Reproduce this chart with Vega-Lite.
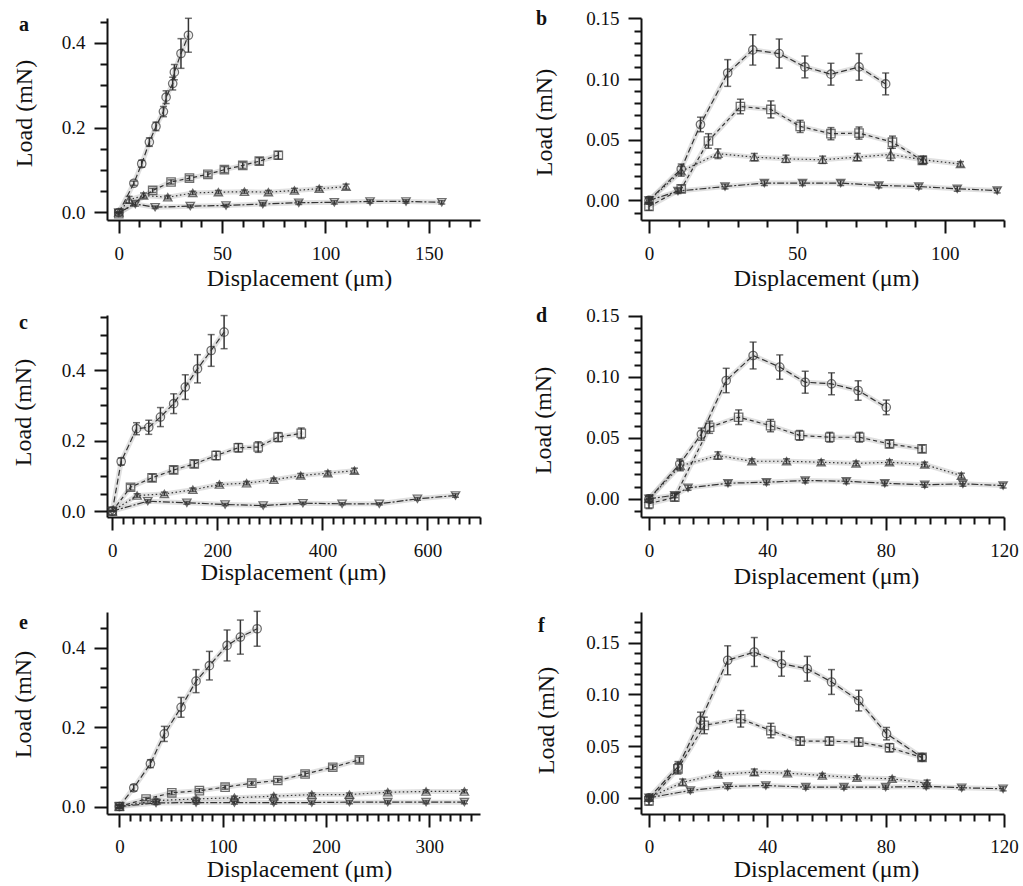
{
"$schema": "https://vega.github.io/schema/vega-lite/v6.json",
"background": "white",
"padding": {"left": 10, "top": 8, "right": 5, "bottom": 5},
"config": {
 "view": {"stroke": null},
 "axis": {"grid": false, "domainColor": "#111", "domainWidth": 2, "tickColor": "#111", "tickWidth": 2, "labelFont": "Liberation Serif", "labelFontSize": 19, "labelColor": "#111", "titleFont": "Liberation Serif", "titleFontSize": 24, "titleFontWeight": "normal", "titleColor": "#111", "labelOverlap": false, "labelFlush": false, "labelBound": false}
},
"datasets": {"d": [
{"p":"a","s":"c","x":0,"y":0,"e":0},{"p":"a","s":"c","x":7.3,"y":0.069,"e":0.005},{"p":"a","s":"c","x":11.1,"y":0.115,"e":0.008},{"p":"a","s":"c","x":14.8,"y":0.166,"e":0.01},{"p":"a","s":"c","x":18.0,"y":0.203,"e":0.01},{"p":"a","s":"c","x":21.6,"y":0.238,"e":0.012},{"p":"a","s":"c","x":22.9,"y":0.272,"e":0.015},{"p":"a","s":"c","x":26.1,"y":0.304,"e":0.015},{"p":"a","s":"c","x":26.9,"y":0.331,"e":0.018},{"p":"a","s":"c","x":30.1,"y":0.375,"e":0.035},{"p":"a","s":"c","x":33.7,"y":0.418,"e":0.04},
{"p":"a","s":"s","x":0,"y":-0.003,"e":0.003},{"p":"a","s":"s","x":16.4,"y":0.052,"e":0.005},{"p":"a","s":"s","x":25.3,"y":0.072,"e":0.005},{"p":"a","s":"s","x":34.2,"y":0.081,"e":0.006},{"p":"a","s":"s","x":43.1,"y":0.09,"e":0.006},{"p":"a","s":"s","x":51.1,"y":0.101,"e":0.007},{"p":"a","s":"s","x":60.0,"y":0.111,"e":0.007},{"p":"a","s":"s","x":68.0,"y":0.121,"e":0.008},{"p":"a","s":"s","x":77.2,"y":0.135,"e":0.009},
{"p":"a","s":"u","x":0,"y":0,"e":0},{"p":"a","s":"u","x":5,"y":0.03,"e":0.008},{"p":"a","s":"u","x":12,"y":0.04,"e":0.006},{"p":"a","s":"u","x":23.7,"y":0.036,"e":0.004},{"p":"a","s":"u","x":35.8,"y":0.046,"e":0.004},{"p":"a","s":"u","x":48.2,"y":0.048,"e":0.004},{"p":"a","s":"u","x":60.8,"y":0.049,"e":0.004},{"p":"a","s":"u","x":72.4,"y":0.048,"e":0.004},{"p":"a","s":"u","x":85.0,"y":0.052,"e":0.005},{"p":"a","s":"u","x":97.0,"y":0.056,"e":0.005},{"p":"a","s":"u","x":110.0,"y":0.061,"e":0.006},
{"p":"a","s":"d","x":0,"y":0,"e":0},{"p":"a","s":"d","x":8,"y":0.02,"e":0.005},{"p":"a","s":"d","x":17.6,"y":0.0125,"e":0.003},{"p":"a","s":"d","x":34.6,"y":0.015,"e":0.003},{"p":"a","s":"d","x":51.9,"y":0.0165,"e":0.003},{"p":"a","s":"d","x":69.7,"y":0.02,"e":0.004},{"p":"a","s":"d","x":87.1,"y":0.023,"e":0.004},{"p":"a","s":"d","x":104.3,"y":0.024,"e":0.004},{"p":"a","s":"d","x":121.6,"y":0.026,"e":0.004},{"p":"a","s":"d","x":139.0,"y":0.026,"e":0.004},{"p":"a","s":"d","x":156.3,"y":0.024,"e":0.004},
{"p":"b","s":"c","x":0,"y":0,"e":0.003},{"p":"b","s":"c","x":10.9,"y":0.026,"e":0.004},{"p":"b","s":"c","x":17.4,"y":0.0626,"e":0.006},{"p":"b","s":"c","x":26.6,"y":0.105,"e":0.011},{"p":"b","s":"c","x":35.1,"y":0.124,"e":0.0125},{"p":"b","s":"c","x":44.0,"y":0.121,"e":0.012},{"p":"b","s":"c","x":52.7,"y":0.11,"e":0.009},{"p":"b","s":"c","x":61.5,"y":0.104,"e":0.009},{"p":"b","s":"c","x":71.0,"y":0.11,"e":0.011},{"p":"b","s":"c","x":80.0,"y":0.096,"e":0.009},
{"p":"b","s":"s","x":0,"y":-0.005,"e":0.003},{"p":"b","s":"s","x":10.9,"y":0.0096,"e":0.003},{"p":"b","s":"s","x":20.1,"y":0.049,"e":0.006},{"p":"b","s":"s","x":30.9,"y":0.0774,"e":0.006},{"p":"b","s":"s","x":41.2,"y":0.075,"e":0.007},{"p":"b","s":"s","x":51.1,"y":0.061,"e":0.005},{"p":"b","s":"s","x":61.5,"y":0.055,"e":0.005},{"p":"b","s":"s","x":71.0,"y":0.0555,"e":0.005},{"p":"b","s":"s","x":82.3,"y":0.048,"e":0.005},{"p":"b","s":"s","x":92.4,"y":0.033,"e":0.003},
{"p":"b","s":"u","x":0,"y":0,"e":0.002},{"p":"b","s":"u","x":10.9,"y":0.024,"e":0.004},{"p":"b","s":"u","x":23.3,"y":0.0385,"e":0.004},{"p":"b","s":"u","x":35.6,"y":0.0357,"e":0.003},{"p":"b","s":"u","x":46.3,"y":0.0343,"e":0.003},{"p":"b","s":"u","x":58.7,"y":0.0335,"e":0.003},{"p":"b","s":"u","x":70.4,"y":0.0357,"e":0.003},{"p":"b","s":"u","x":81.7,"y":0.0379,"e":0.005},{"p":"b","s":"u","x":92.7,"y":0.0335,"e":0.003},{"p":"b","s":"u","x":105.3,"y":0.03,"e":0.002},
{"p":"b","s":"d","x":0,"y":0,"e":0.002},{"p":"b","s":"d","x":9.8,"y":0.0077,"e":0.002},{"p":"b","s":"d","x":25.7,"y":0.0115,"e":0.002},{"p":"b","s":"d","x":39.0,"y":0.0143,"e":0.002},{"p":"b","s":"d","x":51.9,"y":0.0143,"e":0.002},{"p":"b","s":"d","x":64.8,"y":0.0143,"e":0.002},{"p":"b","s":"d","x":77.7,"y":0.0124,"e":0.002},{"p":"b","s":"d","x":91.2,"y":0.0115,"e":0.002},{"p":"b","s":"d","x":104.2,"y":0.0096,"e":0.002},{"p":"b","s":"d","x":117.7,"y":0.0082,"e":0.002},
{"p":"c","s":"c","x":0,"y":0,"e":0},{"p":"c","s":"c","x":17,"y":0.141,"e":0.01},{"p":"c","s":"c","x":46.2,"y":0.234,"e":0.017},{"p":"c","s":"c","x":69.5,"y":0.238,"e":0.02},{"p":"c","s":"c","x":91.7,"y":0.267,"e":0.027},{"p":"c","s":"c","x":116.9,"y":0.305,"e":0.028},{"p":"c","s":"c","x":139,"y":0.352,"e":0.035},{"p":"c","s":"c","x":162.3,"y":0.404,"e":0.04},{"p":"c","s":"c","x":188.3,"y":0.456,"e":0.045},{"p":"c","s":"c","x":212.9,"y":0.508,"e":0.047},
{"p":"c","s":"s","x":0,"y":0,"e":0},{"p":"c","s":"s","x":34.8,"y":0.068,"e":0.008},{"p":"c","s":"s","x":75.8,"y":0.0947,"e":0.01},{"p":"c","s":"s","x":116.9,"y":0.117,"e":0.01},{"p":"c","s":"s","x":156.1,"y":0.134,"e":0.01},{"p":"c","s":"s","x":197.7,"y":0.158,"e":0.012},{"p":"c","s":"s","x":240,"y":0.18,"e":0.012},{"p":"c","s":"s","x":277.8,"y":0.182,"e":0.015},{"p":"c","s":"s","x":315.7,"y":0.21,"e":0.013},{"p":"c","s":"s","x":359.8,"y":0.221,"e":0.015},
{"p":"c","s":"u","x":0,"y":0,"e":0},{"p":"c","s":"u","x":47.3,"y":0.0445,"e":0.005},{"p":"c","s":"u","x":99.2,"y":0.049,"e":0.005},{"p":"c","s":"u","x":153.4,"y":0.0607,"e":0.005},{"p":"c","s":"u","x":204,"y":0.0757,"e":0.005},{"p":"c","s":"u","x":255.7,"y":0.0795,"e":0.005},{"p":"c","s":"u","x":307.6,"y":0.089,"e":0.005},{"p":"c","s":"u","x":358.7,"y":0.101,"e":0.006},{"p":"c","s":"u","x":410.4,"y":0.108,"e":0.006},{"p":"c","s":"u","x":461,"y":0.115,"e":0.007},
{"p":"c","s":"d","x":0,"y":0,"e":0},{"p":"c","s":"d","x":67.6,"y":0.0284,"e":0.004},{"p":"c","s":"d","x":142,"y":0.0238,"e":0.004},{"p":"c","s":"d","x":214.8,"y":0.019,"e":0.003},{"p":"c","s":"d","x":287.3,"y":0.016,"e":0.003},{"p":"c","s":"d","x":363,"y":0.0227,"e":0.003},{"p":"c","s":"d","x":437.5,"y":0.021,"e":0.003},{"p":"c","s":"d","x":508.3,"y":0.021,"e":0.003},{"p":"c","s":"d","x":580.9,"y":0.035,"e":0.004},{"p":"c","s":"d","x":653.4,"y":0.0445,"e":0.005},
{"p":"d","s":"c","x":0,"y":0,"e":0.003},{"p":"d","s":"c","x":10.4,"y":0.0287,"e":0.004},{"p":"d","s":"c","x":17.7,"y":0.053,"e":0.005},{"p":"d","s":"c","x":26.1,"y":0.097,"e":0.01},{"p":"d","s":"c","x":35.2,"y":0.1175,"e":0.011},{"p":"d","s":"c","x":44.2,"y":0.108,"e":0.01},{"p":"d","s":"c","x":52.8,"y":0.0956,"e":0.009},{"p":"d","s":"c","x":61.7,"y":0.0943,"e":0.009},{"p":"d","s":"c","x":70.7,"y":0.0888,"e":0.008},{"p":"d","s":"c","x":80.2,"y":0.075,"e":0.006},
{"p":"d","s":"s","x":0,"y":-0.004,"e":0.004},{"p":"d","s":"s","x":8.7,"y":0.0013,"e":0.003},{"p":"d","s":"s","x":20.5,"y":0.0587,"e":0.005},{"p":"d","s":"s","x":30.3,"y":0.0669,"e":0.006},{"p":"d","s":"s","x":41.1,"y":0.06,"e":0.005},{"p":"d","s":"s","x":50.9,"y":0.052,"e":0.004},{"p":"d","s":"s","x":61.1,"y":0.0505,"e":0.004},{"p":"d","s":"s","x":71.2,"y":0.0505,"e":0.004},{"p":"d","s":"s","x":81.3,"y":0.045,"e":0.003},{"p":"d","s":"s","x":92.3,"y":0.041,"e":0.003},
{"p":"d","s":"u","x":0,"y":0,"e":0.002},{"p":"d","s":"u","x":10.6,"y":0.027,"e":0.004},{"p":"d","s":"u","x":23.3,"y":0.0355,"e":0.003},{"p":"d","s":"u","x":34.8,"y":0.0308,"e":0.002},{"p":"d","s":"u","x":46.5,"y":0.0308,"e":0.002},{"p":"d","s":"u","x":58.2,"y":0.03,"e":0.002},{"p":"d","s":"u","x":70,"y":0.029,"e":0.002},{"p":"d","s":"u","x":81.3,"y":0.03,"e":0.002},{"p":"d","s":"u","x":93.2,"y":0.0281,"e":0.002},{"p":"d","s":"u","x":105.6,"y":0.019,"e":0.002},
{"p":"d","s":"d","x":0,"y":0,"e":0.002},{"p":"d","s":"d","x":8.7,"y":0.003,"e":0.002},{"p":"d","s":"d","x":13.2,"y":0.009,"e":0.002},{"p":"d","s":"d","x":26.7,"y":0.0128,"e":0.002},{"p":"d","s":"d","x":39.7,"y":0.0136,"e":0.002},{"p":"d","s":"d","x":52.8,"y":0.015,"e":0.002},{"p":"d","s":"d","x":66.7,"y":0.0144,"e":0.002},{"p":"d","s":"d","x":79.7,"y":0.0128,"e":0.002},{"p":"d","s":"d","x":93.2,"y":0.0115,"e":0.002},{"p":"d","s":"d","x":106.1,"y":0.0123,"e":0.002},{"p":"d","s":"d","x":119.7,"y":0.0109,"e":0.002},
{"p":"e","s":"c","x":0,"y":0,"e":0.005},{"p":"e","s":"c","x":13.9,"y":0.047,"e":0.008},{"p":"e","s":"c","x":30,"y":0.108,"e":0.01},{"p":"e","s":"c","x":43.5,"y":0.183,"e":0.019},{"p":"e","s":"c","x":59.7,"y":0.25,"e":0.025},{"p":"e","s":"c","x":74.2,"y":0.316,"e":0.029},{"p":"e","s":"c","x":87.1,"y":0.355,"e":0.036},{"p":"e","s":"c","x":104.2,"y":0.406,"e":0.039},{"p":"e","s":"c","x":117.1,"y":0.427,"e":0.043},{"p":"e","s":"c","x":133.3,"y":0.448,"e":0.044},
{"p":"e","s":"s","x":0,"y":0,"e":0.004},{"p":"e","s":"s","x":25.8,"y":0.019,"e":0.004},{"p":"e","s":"s","x":50.7,"y":0.0345,"e":0.005},{"p":"e","s":"s","x":77.4,"y":0.04,"e":0.005},{"p":"e","s":"s","x":102.3,"y":0.0487,"e":0.005},{"p":"e","s":"s","x":128.1,"y":0.0588,"e":0.005},{"p":"e","s":"s","x":153.3,"y":0.0655,"e":0.005},{"p":"e","s":"s","x":179.7,"y":0.082,"e":0.006},{"p":"e","s":"s","x":206.5,"y":0.099,"e":0.006},{"p":"e","s":"s","x":232.3,"y":0.1177,"e":0.007},
{"p":"e","s":"u","x":0,"y":0,"e":0.003},{"p":"e","s":"u","x":35.5,"y":0.015,"e":0.004},{"p":"e","s":"u","x":74.2,"y":0.019,"e":0.004},{"p":"e","s":"u","x":111.3,"y":0.022,"e":0.004},{"p":"e","s":"u","x":149.4,"y":0.026,"e":0.004},{"p":"e","s":"u","x":186.2,"y":0.03,"e":0.004},{"p":"e","s":"u","x":222.6,"y":0.03,"e":0.004},{"p":"e","s":"u","x":259.7,"y":0.036,"e":0.004},{"p":"e","s":"u","x":296.8,"y":0.038,"e":0.004},{"p":"e","s":"u","x":333.9,"y":0.038,"e":0.004},
{"p":"e","s":"d","x":0,"y":0,"e":0.003},{"p":"e","s":"d","x":35.5,"y":0.009,"e":0.004},{"p":"e","s":"d","x":74.2,"y":0.01,"e":0.004},{"p":"e","s":"d","x":111.3,"y":0.01,"e":0.004},{"p":"e","s":"d","x":149.4,"y":0.01,"e":0.004},{"p":"e","s":"d","x":186.2,"y":0.01,"e":0.004},{"p":"e","s":"d","x":222.6,"y":0.011,"e":0.004},{"p":"e","s":"d","x":259.7,"y":0.011,"e":0.004},{"p":"e","s":"d","x":296.8,"y":0.011,"e":0.004},{"p":"e","s":"d","x":333.9,"y":0.011,"e":0.004},
{"p":"f","s":"c","x":0,"y":0,"e":0.003},{"p":"f","s":"c","x":9.8,"y":0.03,"e":0.005},{"p":"f","s":"c","x":17.4,"y":0.0748,"e":0.008},{"p":"f","s":"c","x":26.6,"y":0.133,"e":0.014},{"p":"f","s":"c","x":35.6,"y":0.141,"e":0.014},{"p":"f","s":"c","x":44.8,"y":0.1296,"e":0.012},{"p":"f","s":"c","x":53.5,"y":0.1248,"e":0.012},{"p":"f","s":"c","x":61.7,"y":0.112,"e":0.012},{"p":"f","s":"c","x":70.9,"y":0.094,"e":0.01},{"p":"f","s":"c","x":80.3,"y":0.062,"e":0.006},{"p":"f","s":"c","x":92.3,"y":0.039,"e":0.003},
{"p":"f","s":"s","x":0,"y":-0.003,"e":0.004},{"p":"f","s":"s","x":9.8,"y":0.028,"e":0.005},{"p":"f","s":"s","x":18.7,"y":0.07,"e":0.008},{"p":"f","s":"s","x":31,"y":0.0764,"e":0.008},{"p":"f","s":"s","x":41.2,"y":0.065,"e":0.007},{"p":"f","s":"s","x":51.1,"y":0.0548,"e":0.004},{"p":"f","s":"s","x":61,"y":0.0548,"e":0.004},{"p":"f","s":"s","x":70.9,"y":0.0538,"e":0.004},{"p":"f","s":"s","x":81.3,"y":0.0484,"e":0.004},{"p":"f","s":"s","x":92.3,"y":0.039,"e":0.003},
{"p":"f","s":"u","x":0,"y":0,"e":0.002},{"p":"f","s":"u","x":11.4,"y":0.0151,"e":0.003},{"p":"f","s":"u","x":23.4,"y":0.0225,"e":0.002},{"p":"f","s":"u","x":35.6,"y":0.0248,"e":0.003},{"p":"f","s":"u","x":46.8,"y":0.0238,"e":0.002},{"p":"f","s":"u","x":58.6,"y":0.0216,"e":0.002},{"p":"f","s":"u","x":70.3,"y":0.0193,"e":0.002},{"p":"f","s":"u","x":82.2,"y":0.0184,"e":0.002},{"p":"f","s":"u","x":94,"y":0.0141,"e":0.003},
{"p":"f","s":"d","x":0,"y":0,"e":0.002},{"p":"f","s":"d","x":14,"y":0.0071,"e":0.002},{"p":"f","s":"d","x":26.6,"y":0.0109,"e":0.002},{"p":"f","s":"d","x":39.5,"y":0.0119,"e":0.002},{"p":"f","s":"d","x":53,"y":0.0103,"e":0.002},{"p":"f","s":"d","x":65.9,"y":0.0103,"e":0.002},{"p":"f","s":"d","x":80,"y":0.0103,"e":0.002},{"p":"f","s":"d","x":93.7,"y":0.011,"e":0.002},{"p":"f","s":"d","x":105.7,"y":0.0097,"e":0.002},{"p":"f","s":"d","x":119.7,"y":0.0087,"e":0.002}
]},
"spacing": 297,
"bounds": "flush",
"resolve": {"scale": {"x": "independent", "y": "independent"}},
"vconcat": [
{"hconcat": [
 {"width": 373, "height": 202,
  "title": {"text": "a", "anchor": "start", "frame": "group", "orient": "top", "offset": -28, "dx": -88, "dy": 10.5, "baseline": "alphabetic", "font": "Liberation Serif", "fontSize": 20, "fontWeight": "bold", "color": "#111"},
  "data": {"name": "d"}, "transform": [{"filter": "datum.p === 'a'"}],
  "encoding": {
   "x": {"field": "x", "type": "quantitative", "scale": {"domain": [-5.7, 174.8], "nice": false, "zero": false},
    "axis": {"title": "Displacement (μm)", "values": [0,10,20,30,40,50,60,70,80,90,100,110,120,130,140,150,160,170], "labelExpr": "datum.value % 50 === 0 ? datum.label : ''", "tickSize": {"condition": {"test": "datum.value % 50 === 0", "value": 13}, "value": 7}, "labelPadding": 11, "titleX": 192, "titleY": 58, "titleBaseline": "middle", "titleAlign": "center"}},
   "y": {"field": "y", "type": "quantitative", "scale": {"domain": [-0.0177, 0.4587], "nice": false, "zero": false},
    "axis": {"title": "Load (mN)", "values": [0,0.05,0.1,0.15,0.2,0.25,0.3,0.35,0.4,0.45], "labelExpr": "abs(datum.value*5 - round(datum.value*5)) < 0.001 ? format(datum.value, '.1f') : ''", "tickSize": {"condition": {"test": "abs(datum.value*5 - round(datum.value*5)) < 0.001", "value": 13}, "value": 7}, "labelPadding": 9, "titleX": -83, "titleY": 95, "titleBaseline": "middle", "titleAlign": "center"}}
  },
  "layer": [
   {"mark": {"type": "line", "color": "#bbbbbb", "strokeWidth": 5, "opacity": 0.45, "strokeCap": "round"}, "encoding": {"detail": {"field": "s"}}},
   {"mark": {"type": "errorbar", "ticks": {"size": 7}, "color": "#333", "thickness": 1.5}, "encoding": {"yError": {"field": "e"}}},
   {"mark": {"type": "line", "color": "#333", "strokeWidth": 1.2}, "encoding": {"strokeDash": {"field": "s", "type": "nominal", "scale": {"domain": ["c","s","u","d"], "range": [[6,3],[4,3],[1.5,2.5],[7,2,2,2]]}, "legend": null}}},
   {"mark": {"type": "point", "filled": false, "color": "#333", "strokeWidth": 1.3, "size": 70}, "encoding": {"shape": {"field": "s", "type": "nominal", "scale": {"domain": ["c","s","u","d"], "range": ["circle","square","triangle-up","triangle-down"]}, "legend": null}}}
  ]
 },
 {"width": 363, "height": 202,
  "title": {"text": "b", "anchor": "start", "frame": "group", "orient": "top", "offset": -28, "dx": -105, "dy": 7.5, "baseline": "alphabetic", "font": "Liberation Serif", "fontSize": 20, "fontWeight": "bold", "color": "#111"},
  "data": {"name": "d"}, "transform": [{"filter": "datum.p === 'b'"}],
  "encoding": {
   "x": {"field": "x", "type": "quantitative", "scale": {"domain": [-2.7, 120], "nice": false, "zero": false},
    "axis": {"title": "Displacement (μm)", "values": [0,10,20,30,40,50,60,70,80,90,100,110,120], "labelExpr": "datum.value % 50 === 0 ? datum.label : ''", "tickSize": {"condition": {"test": "datum.value % 50 === 0", "value": 13}, "value": 7}, "labelPadding": 11, "titleX": 185, "titleY": 58, "titleBaseline": "middle", "titleAlign": "center"}},
   "y": {"field": "y", "type": "quantitative", "scale": {"domain": [-0.0161, 0.1503], "nice": false, "zero": false},
    "axis": {"title": "Load (mN)", "values": [-0.01,0,0.01,0.02,0.03,0.04,0.05,0.06,0.07,0.08,0.09,0.1,0.11,0.12,0.13,0.14,0.15], "labelExpr": "abs(datum.value*20 - round(datum.value*20)) < 0.001 ? format(datum.value, '.2f') : ''", "tickSize": {"condition": {"test": "abs(datum.value*20 - round(datum.value*20)) < 0.001", "value": 13}, "value": 7}, "labelPadding": 9, "titleX": -97, "titleY": 104, "titleBaseline": "middle", "titleAlign": "center"}}
  },
  "layer": [
   {"mark": {"type": "line", "color": "#bbbbbb", "strokeWidth": 5, "opacity": 0.45, "strokeCap": "round"}, "encoding": {"detail": {"field": "s"}}},
   {"mark": {"type": "errorbar", "ticks": {"size": 7}, "color": "#333", "thickness": 1.5}, "encoding": {"yError": {"field": "e"}}},
   {"mark": {"type": "line", "color": "#333", "strokeWidth": 1.2}, "encoding": {"strokeDash": {"field": "s", "type": "nominal", "scale": {"domain": ["c","s","u","d"], "range": [[6,3],[4,3],[1.5,2.5],[7,2,2,2]]}, "legend": null}}},
   {"mark": {"type": "point", "filled": false, "color": "#333", "strokeWidth": 1.3, "size": 70}, "encoding": {"shape": {"field": "s", "type": "nominal", "scale": {"domain": ["c","s","u","d"], "range": ["circle","square","triangle-up","triangle-down"]}, "legend": null}}}
  ]
 }
], "spacing": 161, "bounds": "flush", "resolve": {"scale": {"x": "independent", "y": "independent"}}},
{"hconcat": [
 {"width": 373, "height": 202,
  "title": {"text": "c", "anchor": "start", "frame": "group", "orient": "top", "offset": -28, "dx": -88, "dy": 12.5, "baseline": "alphabetic", "font": "Liberation Serif", "fontSize": 20, "fontWeight": "bold", "color": "#111"},
  "data": {"name": "d"}, "transform": [{"filter": "datum.p === 'c'"}],
  "encoding": {
   "x": {"field": "x", "type": "quantitative", "scale": {"domain": [-10, 700], "nice": false, "zero": false},
    "axis": {"title": "Displacement (μm)", "values": [0,20,40,60,80,100,120,140,160,180,200,220,240,260,280,300,320,340,360,380,400,420,440,460,480,500,520,540,560,580,600,620,640,660,680,700], "labelExpr": "datum.value % 200 === 0 ? datum.label : ''", "tickSize": {"condition": {"test": "datum.value % 200 === 0", "value": 13}, "value": 7}, "labelPadding": 11, "titleX": 186, "titleY": 55.5, "titleBaseline": "middle", "titleAlign": "center"}},
   "y": {"field": "y", "type": "quantitative", "scale": {"domain": [-0.0165, 0.5566], "nice": false, "zero": false},
    "axis": {"title": "Load (mN)", "values": [0,0.05,0.1,0.15,0.2,0.25,0.3,0.35,0.4,0.45,0.5,0.55], "labelExpr": "abs(datum.value*5 - round(datum.value*5)) < 0.001 ? format(datum.value, '.1f') : ''", "tickSize": {"condition": {"test": "abs(datum.value*5 - round(datum.value*5)) < 0.001", "value": 13}, "value": 7}, "labelPadding": 9, "titleX": -84, "titleY": 97, "titleBaseline": "middle", "titleAlign": "center"}}
  },
  "layer": [
   {"mark": {"type": "line", "color": "#bbbbbb", "strokeWidth": 5, "opacity": 0.45, "strokeCap": "round"}, "encoding": {"detail": {"field": "s"}}},
   {"mark": {"type": "errorbar", "ticks": {"size": 7}, "color": "#333", "thickness": 1.5}, "encoding": {"yError": {"field": "e"}}},
   {"mark": {"type": "line", "color": "#333", "strokeWidth": 1.2}, "encoding": {"strokeDash": {"field": "s", "type": "nominal", "scale": {"domain": ["c","s","u","d"], "range": [[6,3],[4,3],[1.5,2.5],[7,2,2,2]]}, "legend": null}}},
   {"mark": {"type": "point", "filled": false, "color": "#333", "strokeWidth": 1.3, "size": 70}, "encoding": {"shape": {"field": "s", "type": "nominal", "scale": {"domain": ["c","s","u","d"], "range": ["circle","square","triangle-up","triangle-down"]}, "legend": null}}}
  ]
 },
 {"width": 363, "height": 202,
  "title": {"text": "d", "anchor": "start", "frame": "group", "orient": "top", "offset": -28, "dx": -105, "dy": 7.5, "baseline": "alphabetic", "font": "Liberation Serif", "fontSize": 20, "fontWeight": "bold", "color": "#111"},
  "data": {"name": "d"}, "transform": [{"filter": "datum.p === 'd'"}],
  "encoding": {
   "x": {"field": "x", "type": "quantitative", "scale": {"domain": [-2.7, 120], "nice": false, "zero": false},
    "axis": {"title": "Displacement (μm)", "values": [0,5,10,15,20,25,30,35,40,45,50,55,60,65,70,75,80,85,90,95,100,105,110,115,120], "labelExpr": "datum.value % 40 === 0 ? datum.label : ''", "tickSize": {"condition": {"test": "datum.value % 40 === 0", "value": 13}, "value": 7}, "labelPadding": 11, "titleX": 185, "titleY": 59.5, "titleBaseline": "middle", "titleAlign": "center"}},
   "y": {"field": "y", "type": "quantitative", "scale": {"domain": [-0.0149, 0.1507], "nice": false, "zero": false},
    "axis": {"title": "Load (mN)", "values": [-0.01,0,0.01,0.02,0.03,0.04,0.05,0.06,0.07,0.08,0.09,0.1,0.11,0.12,0.13,0.14,0.15], "labelExpr": "abs(datum.value*20 - round(datum.value*20)) < 0.001 ? format(datum.value, '.2f') : ''", "tickSize": {"condition": {"test": "abs(datum.value*20 - round(datum.value*20)) < 0.001", "value": 13}, "value": 7}, "labelPadding": 9, "titleX": -98, "titleY": 105, "titleBaseline": "middle", "titleAlign": "center"}}
  },
  "layer": [
   {"mark": {"type": "line", "color": "#bbbbbb", "strokeWidth": 5, "opacity": 0.45, "strokeCap": "round"}, "encoding": {"detail": {"field": "s"}}},
   {"mark": {"type": "errorbar", "ticks": {"size": 7}, "color": "#333", "thickness": 1.5}, "encoding": {"yError": {"field": "e"}}},
   {"mark": {"type": "line", "color": "#333", "strokeWidth": 1.2}, "encoding": {"strokeDash": {"field": "s", "type": "nominal", "scale": {"domain": ["c","s","u","d"], "range": [[6,3],[4,3],[1.5,2.5],[7,2,2,2]]}, "legend": null}}},
   {"mark": {"type": "point", "filled": false, "color": "#333", "strokeWidth": 1.3, "size": 70}, "encoding": {"shape": {"field": "s", "type": "nominal", "scale": {"domain": ["c","s","u","d"], "range": ["circle","square","triangle-up","triangle-down"]}, "legend": null}}}
  ]
 }
], "spacing": 161, "bounds": "flush", "resolve": {"scale": {"x": "independent", "y": "independent"}}},
{"hconcat": [
 {"width": 373, "height": 202,
  "title": {"text": "e", "anchor": "start", "frame": "group", "orient": "top", "offset": -28, "dx": -88, "dy": 10.5, "baseline": "alphabetic", "font": "Liberation Serif", "fontSize": 20, "fontWeight": "bold", "color": "#111"},
  "data": {"name": "d"}, "transform": [{"filter": "datum.p === 'e'"}],
  "encoding": {
   "x": {"field": "x", "type": "quantitative", "scale": {"domain": [-12, 349], "nice": false, "zero": false},
    "axis": {"title": "Displacement (μm)", "values": [0,10,20,30,40,50,60,70,80,90,100,110,120,130,140,150,160,170,180,190,200,210,220,230,240,250,260,270,280,290,300,310,320,330,340], "labelExpr": "datum.value % 100 === 0 ? datum.label : ''", "tickSize": {"condition": {"test": "datum.value % 100 === 0", "value": 13}, "value": 7}, "labelPadding": 10, "titleX": 192, "titleY": 55.5, "titleBaseline": "middle", "titleAlign": "center"}},
   "y": {"field": "y", "type": "quantitative", "scale": {"domain": [-0.0189, 0.4903], "nice": false, "zero": false},
    "axis": {"title": "Load (mN)", "values": [0,0.05,0.1,0.15,0.2,0.25,0.3,0.35,0.4,0.45], "labelExpr": "abs(datum.value*5 - round(datum.value*5)) < 0.001 ? format(datum.value, '.1f') : ''", "tickSize": {"condition": {"test": "abs(datum.value*5 - round(datum.value*5)) < 0.001", "value": 13}, "value": 7}, "labelPadding": 9, "titleX": -84, "titleY": 92, "titleBaseline": "middle", "titleAlign": "center"}}
  },
  "layer": [
   {"mark": {"type": "line", "color": "#bbbbbb", "strokeWidth": 5, "opacity": 0.45, "strokeCap": "round"}, "encoding": {"detail": {"field": "s"}}},
   {"mark": {"type": "errorbar", "ticks": {"size": 7}, "color": "#333", "thickness": 1.5}, "encoding": {"yError": {"field": "e"}}},
   {"mark": {"type": "line", "color": "#333", "strokeWidth": 1.2}, "encoding": {"strokeDash": {"field": "s", "type": "nominal", "scale": {"domain": ["c","s","u","d"], "range": [[6,3],[4,3],[1.5,2.5],[7,2,2,2]]}, "legend": null}}},
   {"mark": {"type": "point", "filled": false, "color": "#333", "strokeWidth": 1.3, "size": 70}, "encoding": {"shape": {"field": "s", "type": "nominal", "scale": {"domain": ["c","s","u","d"], "range": ["circle","square","triangle-up","triangle-down"]}, "legend": null}}}
  ]
 },
 {"width": 363, "height": 202,
  "title": {"text": "f", "anchor": "start", "frame": "group", "orient": "top", "offset": -28, "dx": -103, "dy": 11.5, "baseline": "alphabetic", "font": "Liberation Serif", "fontSize": 20, "fontWeight": "bold", "color": "#111"},
  "data": {"name": "d"}, "transform": [{"filter": "datum.p === 'f'"}],
  "encoding": {
   "x": {"field": "x", "type": "quantitative", "scale": {"domain": [-2.7, 120], "nice": false, "zero": false},
    "axis": {"title": "Displacement (μm)", "values": [0,5,10,15,20,25,30,35,40,45,50,55,60,65,70,75,80,85,90,95,100,105,110,115,120], "labelExpr": "datum.value % 40 === 0 ? datum.label : ''", "tickSize": {"condition": {"test": "datum.value % 40 === 0", "value": 13}, "value": 7}, "labelPadding": 10, "titleX": 185, "titleY": 55.5, "titleBaseline": "middle", "titleAlign": "center"}},
   "y": {"field": "y", "type": "quantitative", "scale": {"domain": [-0.0157, 0.1797], "nice": false, "zero": false},
    "axis": {"title": "Load (mN)", "values": [-0.01,0,0.01,0.02,0.03,0.04,0.05,0.06,0.07,0.08,0.09,0.1,0.11,0.12,0.13,0.14,0.15,0.16,0.17], "labelExpr": "abs(datum.value*20 - round(datum.value*20)) < 0.001 ? format(datum.value, '.2f') : ''", "tickSize": {"condition": {"test": "abs(datum.value*20 - round(datum.value*20)) < 0.001", "value": 13}, "value": 7}, "labelPadding": 9, "titleX": -95, "titleY": 108, "titleBaseline": "middle", "titleAlign": "center"}}
  },
  "layer": [
   {"mark": {"type": "line", "color": "#bbbbbb", "strokeWidth": 5, "opacity": 0.45, "strokeCap": "round"}, "encoding": {"detail": {"field": "s"}}},
   {"mark": {"type": "errorbar", "ticks": {"size": 7}, "color": "#333", "thickness": 1.5}, "encoding": {"yError": {"field": "e"}}},
   {"mark": {"type": "line", "color": "#333", "strokeWidth": 1.2}, "encoding": {"strokeDash": {"field": "s", "type": "nominal", "scale": {"domain": ["c","s","u","d"], "range": [[6,3],[4,3],[1.5,2.5],[7,2,2,2]]}, "legend": null}}},
   {"mark": {"type": "point", "filled": false, "color": "#333", "strokeWidth": 1.3, "size": 70}, "encoding": {"shape": {"field": "s", "type": "nominal", "scale": {"domain": ["c","s","u","d"], "range": ["circle","square","triangle-up","triangle-down"]}, "legend": null}}}
  ]
 }
], "spacing": 161, "bounds": "flush", "resolve": {"scale": {"x": "independent", "y": "independent"}}}
]
}
